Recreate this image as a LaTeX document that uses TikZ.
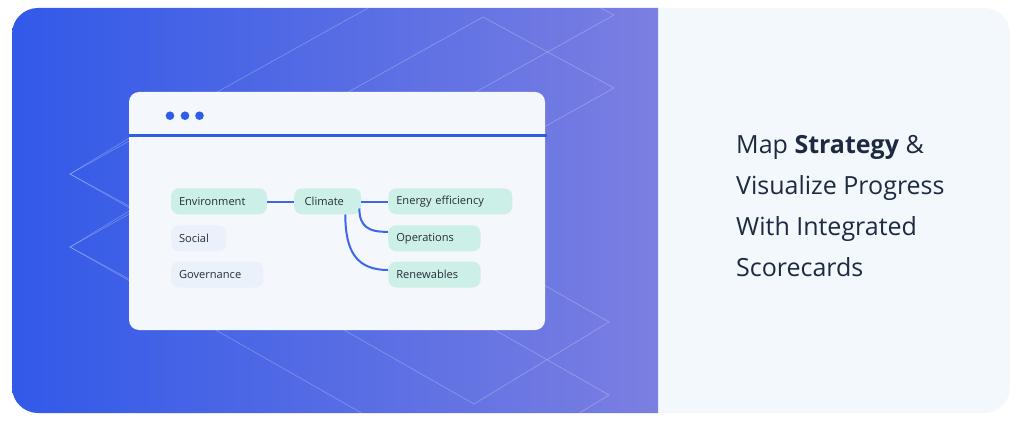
\documentclass[tikz,border=0pt]{standalone}
\usepackage{fontspec}
\setmainfont{Open Sans}
\usetikzlibrary{calc}
\definecolor{gA}{HTML}{3159E8}
\definecolor{gB}{HTML}{7B7FE1}
\definecolor{panel}{HTML}{F3F8FD}
\definecolor{win}{HTML}{F4F8FD}
\definecolor{accent}{HTML}{2F5DE9}
\definecolor{wire}{HTML}{3D66EA}
\definecolor{mint}{HTML}{CCF0E7}
\definecolor{soft}{HTML}{EAF1FA}
\definecolor{ink}{HTML}{1D2A3F}
\definecolor{lab}{HTML}{262D38}
\tikzset{
  tag/.style={rounded corners=8pt, inner xsep=8pt, inner ysep=0pt, minimum height=26pt,
    align=left, text=lab, font=\fontsize{11.1}{13}\selectfont},
  green tag/.style={tag, fill=mint},
  grey tag/.style={tag, fill=soft},
  conn/.style={draw=wire, line width=2pt},
  grid line/.style={draw=white, draw opacity=0.25, line width=0.7pt},
}
\begin{document}
\begin{tikzpicture}[x=1pt, y=-1pt]
\useasboundingbox (0,0) rectangle (1024,422);
\fill[white] (0,0) rectangle (1024,422);
% card
\fill[panel, rounded corners=26pt] (12,8) rectangle (1010,413);
\begin{scope}
  \clip[rounded corners=26pt] (12,8) rectangle (1010,413);
  \clip (12,8) rectangle (658,413);
  \shade[left color=gA, right color=gB] (12,8) rectangle (658,413);
  % faint parallelograms
  \draw[grid line] (70,174) -- (205,92) -- (609,322) -- (474,404) -- cycle;
  \draw[grid line] (70,247) -- (205,165) -- (609,395) -- (474,477) -- cycle;
  \draw[grid line] (70,174) -- (483,-56) -- (614,15) -- (201,245) -- cycle;
  \draw[grid line] (70,247) -- (483,17) -- (614,88) -- (201,318) -- cycle;
\end{scope}
% window
\fill[win, rounded corners=10pt] (129,92) rectangle (545,330);
\draw[accent, line width=3pt] (129,135.5) -- (547,135.5);
\fill[accent] (170,115.7) circle (4.3) (185,115.7) circle (4.3) (199.5,115.7) circle (4.3);
% nodes
\node[green tag, text width=80pt] (env) at (219,201.3) {Environment};
\node[green tag, text width=46pt, inner xsep=10.5pt] (clim) at (327.7,201.3) {Climate};
\node[green tag, text width=108pt] (ene) at (450.3,201.3) {Energy efficiency};
\node[green tag, text width=76.4pt] (ops) at (434.5,238.3) {Operations};
\node[green tag, text width=76.4pt] (ren) at (434.5,274.5) {Renewables};
\node[grey tag, text width=39.3pt] (soc) at (198.7,238.3) {Social};
\node[grey tag, text width=76.3pt] (gov) at (217.2,274.5) {Governance};
% connectors
\draw[conn] ($(env.east)+(0,0.7)$) -- ($(clim.west)+(0,0.7)$);
\draw[conn] ($(clim.east)+(0,0.7)$) -- ($(ene.west)+(0,0.7)$);
\draw[conn] ($(clim.south east)+(-2,-6)$) .. controls (359.3,226) and (368,232.3) .. ($(ops.west)+(0,-6.5)$);
\draw[conn] ($(clim.south)+(17.6,0)$) .. controls (345.3,252) and (357,270) .. ($(ren.west)+(0,-4.5)$);
% title
\node[anchor=base west, inner sep=0pt, text=ink] (title) at (736,153.3)
  {\parbox[t]{260pt}{\raggedright\fontsize{25}{41}\selectfont Map \textbf{Strategy} \&\\Visualize Progress\\With Integrated\\Scorecards}};
\end{tikzpicture}
\end{document}
